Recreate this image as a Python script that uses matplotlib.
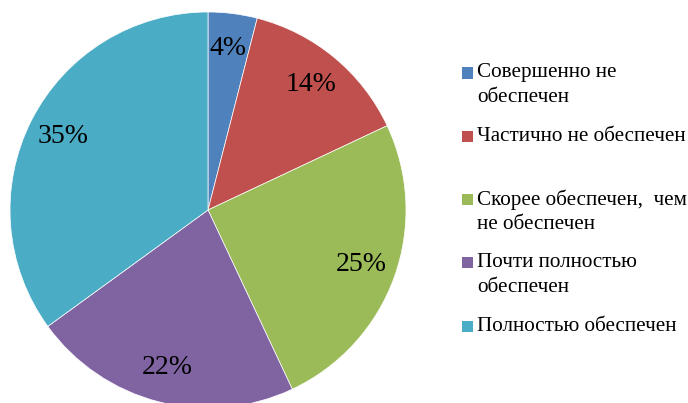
import matplotlib.pyplot as plt
from matplotlib.patches import Rectangle

# data
labels = ["Совершенно не\nобеспечен",
          "Частично не обеспечен",
          "Скорее обеспечен,  чем\nне обеспечен",
          "Почти полностью\nобеспечен",
          "Полностью обеспечен"]
values = [4, 14, 25, 22, 35]
colors = ["#4F81BD", "#C0504D", "#9BBB59", "#8064A2", "#4BACC6"]

plt.rcParams['font.family'] = ['Liberation Serif', 'DejaVu Serif']

W, H = 688, 403
fig = plt.figure(figsize=(W / 100, H / 100), dpi=100)

# pie centre (208, 210) px from top-left, radius 198 px
cx, cy, r = 208, 210, 198
ax = fig.add_axes([(cx - r) / W, (H - cy - r) / H, 2 * r / W, 2 * r / H])
wedges, texts, autotexts = ax.pie(
    values, colors=colors, startangle=90, counterclock=False,
    autopct=lambda p: f"{p:.0f}%", pctdistance=0.82,
    wedgeprops=dict(edgecolor="white", linewidth=0.5),
    textprops=dict(fontsize=20, color="black"))
ax.set_xlim(-1, 1)
ax.set_ylim(-1, 1)
ax.set_aspect('equal')
ax.axis('off')

# legend drawn by hand to keep Excel-like alignment
y0, step, line_h = 73, 63.3, 25
for i, (lab, col) in enumerate(zip(labels, colors)):
    yc = y0 + i * step
    fig.patches.append(Rectangle((462 / W, 1 - (yc + 5.5) / H), 11 / W, 11 / H,
                                 transform=fig.transFigure, facecolor=col,
                                 edgecolor='none'))
    for k, line in enumerate(lab.split("\n")):
        fig.text(477 / W, 1 - (yc + k * line_h) / H, line, fontsize=15.2,
                 va='center', ha='left')

fig.savefig("out.png", dpi=100)
